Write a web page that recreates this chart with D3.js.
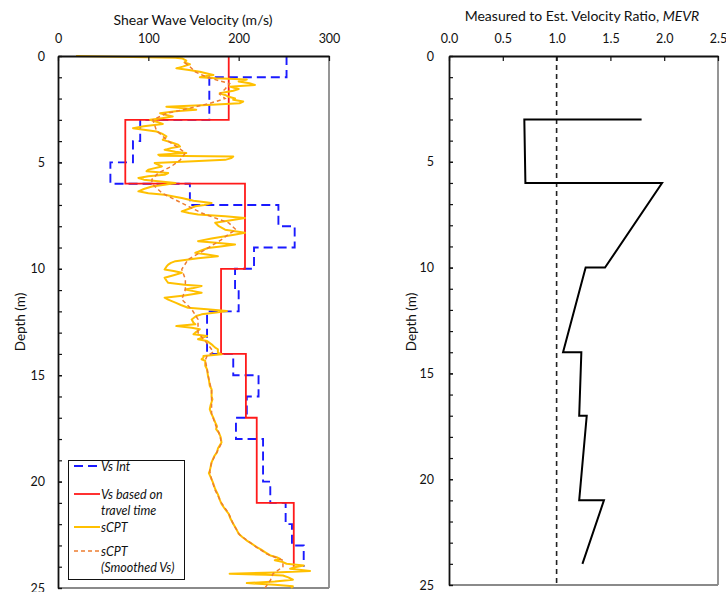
<!DOCTYPE html>
<html><head><meta charset="utf-8">
<script src="https://cdn.jsdelivr.net/npm/d3@7"></script>
<style>
body{margin:0;background:#fff;}
text{font-family:Lato,"Open Sans",sans-serif;fill:#111;}
</style></head><body>
<svg id="c" width="726" height="592"></svg>
<script>
// ---------- DATA ----------
const depthTicks = [0,5,10,15,20,25];
const vsTicks = [0,100,200,300];
const mevrTicks = [0,0.5,1.0,1.5,2.0,2.5];

// Vs Int (interval) layers: boundaries and values
const vsIntBounds = [0,1,3,4,5,6,7,8,9,10,11,12,14,15,16,17,18,20,21,22,23,24];
const vsIntValues = [253,167.5,91,83,58,146,244,262,217,196,200,165,194,222,209,197,227,235,252,259,272];

// Vs based on travel time
const vsTTBounds = [0,3,6,10,14,17,21,24];
const vsTTValues = [189,74.5,207,180.5,208,220,261];

// sCPT (depth, Vs)
const scptDepth = [0,0.08,0.12,0.22,0.3,0.39,0.5,0.58,0.66,0.74,0.82,0.89,0.95,1.0,1.05,1.1,1.2,1.28,1.36,1.44,1.55,1.63,1.75,1.83,1.9,2.0,2.06,2.14,2.22,2.3,2.38,2.45,2.53,2.6,2.69,2.77,2.84,2.92,3.0,3.1,3.19,3.3,3.39,3.47,3.55,3.65,3.78,3.94,4.05,4.17,4.25,4.33,4.41,4.5,4.56,4.64,4.69,4.72,4.8,4.88,4.95,5.03,5.19,5.34,5.42,5.5,5.58,5.65,5.73,5.81,5.89,5.97,6.05,6.13,6.25,6.36,6.45,6.52,6.6,6.67,6.8,6.91,7.0,7.06,7.18,7.3,7.38,7.45,7.53,7.61,7.7,7.84,8.0,8.16,8.31,8.4,8.47,8.58,8.7,8.78,8.86,8.95,9.02,9.15,9.25,9.33,9.41,9.5,9.64,9.72,9.8,9.9,10.03,10.1,10.19,10.3,10.42,10.55,10.66,10.75,10.81,10.9,10.97,11.05,11.13,11.25,11.36,11.45,11.59,11.7,11.83,11.9,11.98,12.05,12.14,12.22,12.38,12.53,12.61,12.69,12.77,12.84,13.0,13.08,13.16,13.31,13.39,13.55,13.63,13.7,13.78,13.94,14.02,14.1,14.17,14.25,14.33,14.56,14.72,15.03,15.2,15.5,15.66,16.0,16.13,16.4,16.6,16.83,17.0,17.22,17.4,17.53,17.7,17.9,18.16,18.3,18.45,18.63,18.8,19.0,19.1,19.3,19.49,19.6,19.88,20.1,20.35,20.6,20.85,21.05,21.3,21.52,21.75,21.98,22.2,22.45,22.6,22.77,22.9,23.08,23.2,23.31,23.47,23.55,23.63,23.7,23.78,23.86,23.94,24.02,24.09,24.2,24.27,24.33,24.38,24.41,24.5,24.61,24.7,24.77,24.85,24.92,25];
const scptVs = [20,130,138,142,140,146,138,131,145,157,165,172,163,157,175,209,200,212,218,190,200,194,179,185,188,196,194,205,201,165,120,140,153,130,113,120,127,115,102,110,116,95,83,95,109,115,120,116,125,133,135,125,118,130,142,111,113,194,192,185,150,107,115,100,98,122,118,100,89,95,111,130,118,104,95,89,100,118,128,137,150,170,162,152,145,137,145,155,185,207,195,174,178,185,207,195,185,170,155,175,196,180,166,158,152,165,177,155,130,125,122,120,118,128,137,128,118,120,122,140,159,150,141,150,159,140,118,122,130,136,144,165,187,175,159,153,148,150,152,131,148,157,152,150,165,155,165,170,172,174,177,177,181,161,161,159,163,163,165,166,167,168,170,170,171,169,168,170,172,174,176,175,178,180,181,179,177,176,173,171,170,169,168,167,170,172,174,177,179,181,185,189,191,194,197,200,204,209,214,220,225,229,235,242,246,240,249,253,272,262,257,279,240,190,230,249,255,260,240,209,240,260,258];

// sCPT smoothed
const smDepth = [0.3,0.5,0.75,1.0,1.3,1.55,1.8,2.0,2.2,2.4,2.7,3.0,3.5,4.0,4.3,4.56,4.9,5.2,5.5,5.8,6.0,6.44,6.91,7.38,7.84,8.16,8.4,8.63,9.1,9.56,10.03,10.5,10.97,11.44,11.9,12.38,13.0,13.5,13.9,14.1,14.3,14.7,15.2,15.7,16.2,16.8,17.3,17.8,18.2,18.6,19.1,19.5,19.9,20.4,21.0,21.5,22.0,22.5,23.0,23.4,23.7,24.0,24.33,24.65,25];
const smVs = [140,146,152,165,190,185,179,185,170,151,120,105,109,122,133,141,135,125,111,104,104,115,137,159,189,197,188,181,163,144,137,141,141,137,148,155,155,165,172,165,163,165,167,170,170,170,174,179,181,176,170,168,170,174,181,189,194,201,217,231,249,249,238,235,229];

// MEVR
const mevrDepth = [3,3,6,6,10,10,14,14,17,17,21,21,24];
const mevrVal = [1.79,0.70,0.71,1.98,1.45,1.27,1.06,1.23,1.21,1.28,1.21,1.44,1.24];

// legend
const legendItems = [
  {lines:["Vs Int"], color:"#1a1aff", dash:"9,5", w:1.8},
  {lines:["Vs based on","travel time"], color:"#ff1a1a", dash:null, w:1.8},
  {lines:["sCPT"], color:"#ffc000", dash:null, w:2},
  {lines:["sCPT","(Smoothed Vs)"], color:"#ed7d31", dash:"4,3", w:1.5}
];

// ---------- DRAW ----------
const svg = d3.select("#c");
const gray = "#8a8a8a";

function stepPoints(bounds, vals){
  const pts=[];
  vals.forEach((v,i)=>{pts.push([v,bounds[i]]);pts.push([v,bounds[i+1]]);});
  return pts;
}

// Left panel
const L = {x0:58,x1:329,y0:56,y1:588};
const xL = d3.scaleLinear().domain([0,300]).range([L.x0,L.x1]);
const yL = d3.scaleLinear().domain([0,25]).range([L.y0,L.y1]);
// Right panel
const R = {x0:449,x1:718,y0:56,y1:585};
const xR = d3.scaleLinear().domain([0,2.5]).range([R.x0,R.x1]);
const yR = d3.scaleLinear().domain([0,25]).range([R.y0,R.y1]);

function frame(P){
  svg.append("line").attr("x1",P.x1).attr("x2",P.x1).attr("y1",P.y0).attr("y2",P.y1).attr("stroke",gray).attr("stroke-width",1.8);
  svg.append("line").attr("x1",P.x0).attr("x2",P.x1).attr("y1",P.y1).attr("y2",P.y1).attr("stroke",gray).attr("stroke-width",1.8);
}
frame(L); frame(R);

function axes(P, xs, ys, xTicks, xFmt, leftPad){
  const top = svg.append("g").attr("transform",`translate(0,${P.y0})`)
    .call(d3.axisTop(xs).tickValues(xTicks).tickFormat(xFmt).tickSizeInner(-5).tickSizeOuter(0).tickPadding(13));
  top.select(".domain").attr("stroke","#111").attr("stroke-width",1.8);
  top.selectAll(".tick line").attr("stroke","#111").attr("stroke-width",1.2);
  top.selectAll("text").style("font-size","12.5px").attr("fill","#111");
  const minor = svg.append("g").attr("transform",`translate(${P.x0},0)`)
    .call(d3.axisLeft(ys).tickValues(d3.range(0,26,1)).tickFormat("").tickSizeInner(-4).tickSizeOuter(0));
  minor.select(".domain").remove();
  minor.selectAll(".tick line").attr("stroke","#111").attr("stroke-width",1.2);
  const left = svg.append("g").attr("transform",`translate(${P.x0},0)`)
    .call(d3.axisLeft(ys).tickValues(depthTicks).tickSizeInner(-4).tickSizeOuter(0).tickPadding(leftPad));
  left.select(".domain").attr("stroke","#111").attr("stroke-width",1.8);
  left.selectAll(".tick line").attr("stroke","#111").attr("stroke-width",1.2);
  left.selectAll("text").style("font-size","12.5px").attr("fill","#111");
}

// Left series
const lineL = d3.line().x(d=>xL(d[0])).y(d=>yL(d[1]));
svg.append("path").attr("d",lineL(stepPoints(vsIntBounds,vsIntValues)))
  .attr("fill","none").attr("stroke","#1a1aff").attr("stroke-width",1.9).attr("stroke-dasharray","9,5");
svg.append("path").attr("d",lineL(stepPoints(vsTTBounds,vsTTValues)))
  .attr("fill","none").attr("stroke","#ff1a1a").attr("stroke-width",1.8);
svg.append("path").attr("d",lineL(scptDepth.map((d,i)=>[scptVs[i],d])))
  .attr("fill","none").attr("stroke","#ffc000").attr("stroke-width",2).attr("stroke-linejoin","round");
svg.append("path").attr("d",lineL(smDepth.map((d,i)=>[smVs[i],d])))
  .attr("fill","none").attr("stroke","#ed7d31").attr("stroke-width",1.5).attr("stroke-dasharray","4,3");

axes(L,xL,yL,vsTicks,d3.format("d"),13);

// Right series
svg.append("line").attr("x1",xR(1)).attr("x2",xR(1)).attr("y1",R.y0).attr("y2",R.y1)
  .attr("stroke","#222").attr("stroke-width",1.6).attr("stroke-dasharray","5,4");
const lineR = d3.line().x(d=>xR(d[0])).y(d=>yR(d[1]));
svg.append("path").attr("d",lineR(mevrDepth.map((d,i)=>[mevrVal[i],d])))
  .attr("fill","none").attr("stroke","#000").attr("stroke-width",2);
axes(R,xR,yR,mevrTicks,d3.format(".1f"),15);

// Titles
svg.append("text").attr("x",193).attr("y",25).attr("text-anchor","middle").style("font-size","14px").text("Shear Wave Velocity (m/s)");
const t2 = svg.append("text").attr("x",582).attr("y",21).attr("text-anchor","middle").style("font-size","14px");
t2.append("tspan").text("Measured to Est. Velocity Ratio, ");
t2.append("tspan").style("font-style","italic").text("MEVR");
svg.append("text").attr("transform","translate(25,322) rotate(-90)").attr("text-anchor","middle").style("font-size","13.5px").text("Depth (m)");
svg.append("text").attr("transform","translate(416,322) rotate(-90)").attr("text-anchor","middle").style("font-size","13.5px").text("Depth (m)");

// Legend
const lg = svg.append("g");
lg.append("rect").attr("x",68.5).attr("y",460.5).attr("width",116).attr("height",119).attr("fill","#fff").attr("stroke","#111").attr("stroke-width",1);
const rowY = [466, 494, 527, 551];
legendItems.forEach((it,i)=>{
  const y = rowY[i];
  lg.append("line").attr("x1",74).attr("x2",100).attr("y1",y).attr("y2",y)
    .attr("stroke",it.color).attr("stroke-width",it.w).attr("stroke-dasharray",it.dash);
  it.lines.forEach((s,j)=>{
    lg.append("text").attr("x",101).attr("y",y+4.5+j*16).style("font-size","12.5px").style("font-style","italic").text(s);
  });
});
</script></body></html>
